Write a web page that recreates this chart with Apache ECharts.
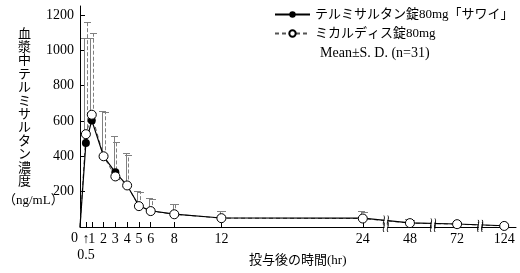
<!DOCTYPE html>
<html><head><meta charset="utf-8">
<script src="https://cdn.jsdelivr.net/npm/echarts@6/dist/echarts.min.js"></script>
<style>html,body{margin:0;padding:0;background:#fff}#c{width:520px;height:273px}</style>
</head><body><div id="c"></div>
<script>
// ---- data ----
const times = [0, 0.5, 1, 2, 3, 4, 5, 6, 8, 12, 24, 48, 72, 124];
const tickTimes = [0, 0.5, 1, 2, 3, 4, 5, 6, 8, 12, 24, 48, 72, 124];
const tickLabels = ['', '↑\n0.5', '1', '2', '3', '4', '5', '6', '8', '12', '24', '48', '72', '124'];
const sawaiMean = [0, 475, 603, 400, 309, 235, 120, 92, 73, 51, 50, 23, 17, 7];
const sawaiSD = [0, 592, 464, 254, 204, 183, 85, 72, 59, 41, 38, 22, 13, 12];
const micardisMean = [0, 525, 635, 400, 286, 235, 118, 90, 72, 50, 48, 22, 16, 6];
const micardisSD = [0, 633, 463, 250, 195, 175, 82, 70, 56, 38, 37, 20, 12, 11];
const yTicks = [0, 200, 400, 600, 800, 1000, 1200];
const yLabels = [200, 400, 600, 800, 1000, 1200];
const name1 = 'テルミサルタン錠80mg「サワイ」';
const name2 = 'ミカルディス錠80mg';

// broken time axis: hours after 24 are shown as equal steps
const lateTimes = [48, 72, 124];
const lateStep = 4;
function pos(t) { return t <= 24 ? t : 24 + lateStep * (lateTimes.indexOf(t) + 1); }

const SERIF = "'Liberation Serif','Noto Sans CJK JP'";
const JP = "'Noto Sans CJK JP'";

const chart = echarts.init(document.getElementById('c'));

function pts(mean, noFirstSymbol) {
  return times.map((t, i) => (i === 0 && noFirstSymbol) ? { value: [pos(t), mean[i]], symbol: 'none' } : [pos(t), mean[i]]);
}
function errData(mean, sd) {
  return times.map((t, i) => [pos(t), mean[i], sd[i]]).filter(d => d[2] > 0);
}
function errRender(offset, dashed) {
  return function (params, api) {
    const x = api.value(0), m = api.value(1), s = api.value(2);
    const p0 = api.coord([x, m]), p1 = api.coord([x, m + s]);
    const xx = Math.round(p0[0] + offset) + 0.5;
    const ty = Math.round(p1[1]) + 0.5;
    return { type: 'group', children: [
      { type: 'line', shape: { x1: xx, y1: p0[1], x2: xx, y2: ty }, style: { stroke: '#808080', lineWidth: 1, lineDash: dashed ? [4, 2] : null } },
      { type: 'line', shape: { x1: xx - 3.5, y1: ty, x2: xx + 3.5, y2: ty }, style: { stroke: '#808080', lineWidth: 1 } }
    ] };
  };
}
// break marks: on axis and on the line, placed at midpoints between late positions
const breakPos = [];
const allPos = [24].concat(lateTimes).map(pos);
for (let i = 0; i < allPos.length - 1; i++) breakPos.push((allPos[i] + allPos[i + 1]) / 2);
function lineValAt(p) {
  const ps = times.map(pos);
  for (let i = 0; i < ps.length - 1; i++) {
    if (p >= ps[i] && p <= ps[i + 1]) {
      const f = (p - ps[i]) / (ps[i + 1] - ps[i]);
      return sawaiMean[i] + f * (sawaiMean[i + 1] - sawaiMean[i]);
    }
  }
  return 0;
}
const breakData = [];
breakPos.forEach(p => { breakData.push([p, 0]); breakData.push([p, lineValAt(p)]); });
function breakRender(params, api) {
  const c = api.coord([api.value(0), api.value(1)]);
  const cx = c[0], cy = c[1], h = 5;
  const d = `M${cx - 2.5},${cy - h} C${cx - 0.5},${cy - 2} ${cx - 4.5},${cy + 2} ${cx - 2.5},${cy + h} ` +
            `M${cx + 1.5},${cy - h} C${cx + 3.5},${cy - 2} ${cx - 0.5},${cy + 2} ${cx + 1.5},${cy + h}`;
  return { type: 'group', children: [
    { type: 'rect', shape: { x: cx - 2, y: cy - 2, width: 3, height: 4 }, style: { fill: '#fff' } },
    { type: 'path', shape: { pathData: d }, style: { fill: null, stroke: '#000', lineWidth: 0.9 } }
  ] };
}

chart.setOption({
  animation: false,
  backgroundColor: '#fff',
  grid: { left: 80, right: 4, top: 6, bottom: 46, containLabel: false, outerBoundsMode: 'none' },
  legend: {
    orient: 'vertical', left: 274, top: 8, padding: 0, itemWidth: 35, itemHeight: 8, itemGap: 6,
    data: [name1, name2],
    textStyle: { fontSize: 13, color: '#000', fontFamily: SERIF }
  },
  xAxis: {
    type: 'value', min: 0, max: 37,
    axisLine: { lineStyle: { color: '#000', width: 1 } },
    axisTick: { inside: true, length: 5, lineStyle: { color: '#000' }, customValues: tickTimes.map(pos) },
    axisLabel: {
      customValues: tickTimes.map(pos), showMinLabel: false, margin: 4, color: '#000', fontSize: 14, fontFamily: SERIF, lineHeight: 16,
      formatter: v => {
        const i = tickTimes.map(pos).findIndex(p => Math.abs(p - v) < 1e-6);
        return i < 0 ? '' : tickLabels[i];
      }
    },
    splitLine: { show: false }
  },
  yAxis: {
    type: 'value', min: 0, max: 1250, interval: 200,
    axisLine: { show: true, lineStyle: { color: '#000', width: 1 } },
    axisTick: { show: true, inside: true, length: 5, lineStyle: { color: '#000' }, customValues: yTicks },
    axisLabel: { customValues: yLabels, margin: 6, color: '#000', fontSize: 14, fontFamily: SERIF, formatter: v => String(v) },
    splitLine: { show: false }
  },
  graphic: [
    { type: 'text', left: 18, top: 26, style: { text: '血漿中テルミサルタン濃度'.split('').join('\n'), font: '13px ' + JP, lineHeight: 13.4, fill: '#000', align: 'center' } },
    { type: 'text', left: 3, top: 194, style: { text: '（ng/mL）', font: '13px ' + SERIF, fill: '#000' } },
    { type: 'text', left: 71, top: 231, style: { text: '0', font: '14px ' + SERIF, fill: '#000' } },
    { type: 'text', left: 249, top: 254, style: { text: '投与後の時間(hr)', font: '13px ' + SERIF, fill: '#000' } },
    { type: 'text', left: 320, top: 46, style: { text: 'Mean±S. D. (n=31)', font: '14px ' + SERIF, fill: '#000' } }
  ],
  series: [
    { type: 'custom', name: 'err2', renderItem: errRender(1, true), data: errData(micardisMean, micardisSD), encode: { x: 0, y: 1 }, z: 1, silent: true },
    { type: 'custom', name: 'err1', renderItem: errRender(-1.5, false), data: errData(sawaiMean, sawaiSD), encode: { x: 0, y: 1 }, z: 1, silent: true },
    {
      type: 'line', name: name2, data: times.map((t, i) => ({ value: [pos(t), micardisMean[i]], symbol: 'none' })),
      symbol: 'emptyCircle', symbolSize: 7, showSymbol: true,
      lineStyle: { color: '#555', width: 1, type: [4, 3] },
      itemStyle: { color: '#000', borderColor: '#000', borderWidth: 1 }, z: 2
    },
    {
      type: 'line', name: name1, data: pts(sawaiMean, true),
      symbol: 'circle', symbolSize: 8,
      lineStyle: { color: '#000', width: 1.2 },
      itemStyle: { color: '#000' }, z: 3
    },
    {
      type: 'scatter', name: 'opensym', data: times.map((t, i) => [pos(t), micardisMean[i]]).slice(1),
      symbol: 'circle', symbolSize: 9,
      itemStyle: { color: '#fff', borderColor: '#000', borderWidth: 1, opacity: 1 }, z: 4
    },
    { type: 'custom', name: 'brk', renderItem: breakRender, data: breakData, encode: { x: 0, y: 1 }, z: 6, silent: true, clip: false }
  ]
});
</script>
</body></html>
